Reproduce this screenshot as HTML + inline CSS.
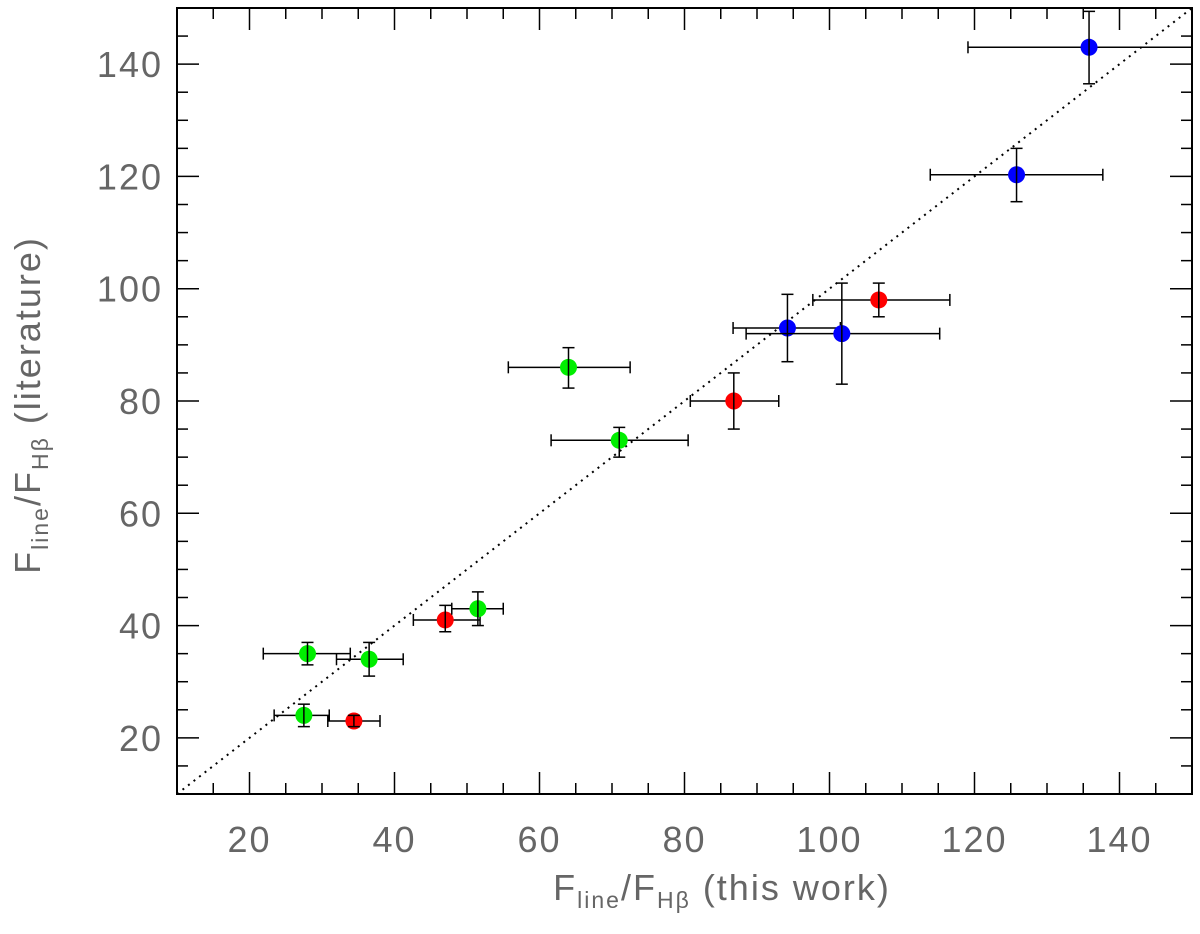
<!DOCTYPE html>
<html><head><meta charset="utf-8"><style>
html,body{margin:0;padding:0;background:#fff;}
svg{display:block;font-family:"Liberation Sans","DejaVu Sans",sans-serif;}
</style></head><body>
<svg id="chart" width="1200" height="934"></svg>
<script>
const xs=[135.8,125.8,94.2,101.7,106.8,86.8,47,34.4,64,71,51.5,36.5,28,27.5];
const ys=[143,120.3,93,92,98,80,41,23,86,73,43,34,35,24];
const xLo=[119.1,113.9,86.7,88.5,97.7,80.8,42.6,30.8,55.7,61.6,47.9,32,21.9,23.4];
const xHi=[151,137.7,101.5,115.2,116.6,93,51.8,38,72.5,80.5,55,41.2,33.9,31];
const yLo=[136.5,115.5,87,83,95,75,38.9,22,82.3,70,40,31,33,22];
const yHi=[149.4,125,99,101,101,85,43.6,24,89.5,75.3,46,37,37,26];
const groups=["blue","blue","blue","blue","red","red","red","red","green","green","green","green","green","green"];
const xTicks=[20,40,60,80,100,120,140];
const yTicks=[20,40,60,80,100,120,140];
const colors={blue:"#0000ff",red:"#ff0000",green:"#00ee00"};
const L=177,R=1192,T=8,B=794,x0=10,x1=150,y0=10,y1=150;
const X=v=>L+(v-x0)/(x1-x0)*(R-L);
const Y=v=>B-(v-y0)/(y1-y0)*(B-T);
const svg=document.getElementById('chart');
const NS="http://www.w3.org/2000/svg";
function mk(t,a,p){const e=document.createElementNS(NS,t);for(const k in a)e.setAttribute(k,a[k]);(p||svg).appendChild(e);return e;}
const defs=mk('defs',{});const cp=mk('clipPath',{id:'c'},defs);mk('rect',{x:L,y:T,width:R-L,height:B-T},cp);
const diag=mk('line',{x1:X(10),y1:Y(10),x2:X(150),y2:Y(150),stroke:'#000','stroke-width':2,'stroke-dasharray':'2,5','clip-path':'url(#c)'});


for(let v=15;v<150;v+=5){const maj=v%20===0;const len=maj?22:11;
 const a=mk('line',{x1:X(v),x2:X(v),y1:B,y2:B-len,stroke:'#000','stroke-width':1.5});
 
 const b=mk('line',{x1:X(v),x2:X(v),y1:T,y2:T+len,stroke:'#000','stroke-width':1.5});
 
 const c=mk('line',{y1:Y(v),y2:Y(v),x1:L,x2:L+len,stroke:'#000','stroke-width':1.5});
 
 const d=mk('line',{y1:Y(v),y2:Y(v),x1:R,x2:R-len,stroke:'#000','stroke-width':1.5});
 }
xTicks.forEach(v=>{const t=mk('text',{x:X(v),y:852,'text-anchor':'middle','font-size':36,fill:'#666','letter-spacing':2});t.textContent=v;
 });
yTicks.forEach(v=>{const t=mk('text',{x:163,y:Y(v)+13,'text-anchor':'end','font-size':36,fill:'#666','letter-spacing':2});t.textContent=v;
 });
for(let i=0;i<xs.length;i++){
 const g=mk('g',{});
 const cy=Y(ys[i]),cx=X(xs[i]);
 mk('line',{x1:X(xLo[i]),x2:Math.min(X(xHi[i]),R),y1:cy,y2:cy,stroke:'#000','stroke-width':1.5},g);
 mk('line',{x1:X(xLo[i]),x2:X(xLo[i]),y1:cy-6,y2:cy+6,stroke:'#000','stroke-width':1.5},g);
 if(X(xHi[i])<R)mk('line',{x1:X(xHi[i]),x2:X(xHi[i]),y1:cy-6,y2:cy+6,stroke:'#000','stroke-width':1.5},g);
 mk('circle',{cx:cx,cy:cy,r:8.5,fill:colors[groups[i]]},g);
 mk('line',{x1:cx,x2:cx,y1:Y(yLo[i]),y2:Y(yHi[i]),stroke:'#000','stroke-width':1.5},g);
 mk('line',{x1:cx-6,x2:cx+6,y1:Y(yLo[i]),y2:Y(yLo[i]),stroke:'#000','stroke-width':1.5},g);
 mk('line',{x1:cx-6,x2:cx+6,y1:Y(yHi[i]),y2:Y(yHi[i]),stroke:'#000','stroke-width':1.5},g);
}
const fr=mk('rect',{x:L,y:T,width:R-L,height:B-T,fill:'none',stroke:'#000','stroke-width':2});

</script>
<svg style="position:absolute;left:0;top:0" width="1200" height="934">
<text x="722" y="900" text-anchor="middle" font-size="36" fill="#666" letter-spacing="2" font-family="Liberation Sans, DejaVu Sans, sans-serif">F<tspan font-size="23" dy="8">line</tspan><tspan dy="-8">/F</tspan><tspan font-size="23" dy="8">Hβ</tspan><tspan dy="-8"> (this work)</tspan></text>
<text transform="translate(40,405) rotate(-90)" text-anchor="middle" font-size="36" fill="#666" letter-spacing="2" font-family="Liberation Sans, DejaVu Sans, sans-serif">F<tspan font-size="23" dy="8">line</tspan><tspan dy="-8">/F</tspan><tspan font-size="23" dy="8">Hβ</tspan><tspan dy="-8"> (literature)</tspan></text>
</svg>
</body></html>
